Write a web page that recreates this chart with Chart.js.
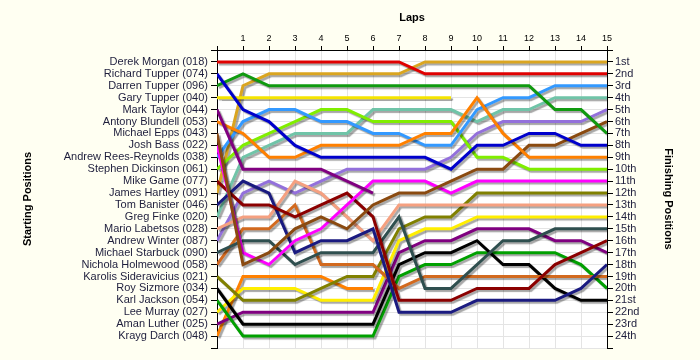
<!DOCTYPE html>
<html>
<head>
<meta charset="utf-8">
<title>Lap chart</title>
<script src="https://cdn.jsdelivr.net/npm/chart.js@4"></script>
<style>
  html, body { margin: 0; padding: 0; background: #fffff2; }
  canvas { display: block; }
</style>
</head>
<body>
<canvas id="chart" width="700" height="360"></canvas>
<script>
// laps 0..15, position of each driver after each lap (null = retired)
const laps = [0, 1, 2, 3, 4, 5, 6, 7, 8, 9, 10, 11, 12, 13, 14, 15];

const startNames = [
  'Derek Morgan (018)', 'Richard Tupper (074)', 'Darren Tupper (096)', 'Gary Tupper (040)',
  'Mark Taylor (044)', 'Antony Blundell (053)', 'Michael Epps (043)', 'Josh Bass (022)',
  'Andrew Rees-Reynolds (038)', 'Stephen Dickinson (061)', 'Mike Game (077)', 'James Hartley (091)',
  'Tom Banister (046)', 'Greg Finke (020)', 'Mario Labetsos (028)', 'Andrew Winter (087)',
  'Michael Starbuck (090)', 'Nichola Holmewood (058)', 'Karolis Sideravicius (021)', 'Roy Sizmore (034)',
  'Karl Jackson (054)', 'Lee Murray (027)', 'Aman Luther (025)', 'Krayg Darch (048)'
];

const finishLabels = [
  '1st', '2nd', '3rd', '4th', '5th', '6th', '7th', '8th', '9th', '10th', '11th', '12th',
  '13th', '14th', '15th', '16th', '17th', '18th', '19th', '20th', '21st', '22nd', '23rd', '24th'
];

const morgan       = [1, 1, 1, 1, 1, 1, 1, 1, 2, 2, 2, 2, 2, 2, 2, 2];
const rTupper      = [2, 5, 6, 8, 9, 9, 9, 9, 9, 10, 8, 8, 7, 7, 8, 8];
const dTupper      = [3, 2, 3, 3, 3, 3, 3, 3, 3, 3, 3, 3, 3, 5, 5, 7];
const gTupper      = [4, 4, 4, 4, 4, 4, 4, 4, 4, 4, null, null, null, null, null, null];
const taylor       = [5, 10, 10, 10, 10, 11, 12, null, null, null, null, null, null, null, null, null];
const blundell     = [6, 7, 9, 9, 8, 8, 8, 8, 7, 7, 4, 7, 9, 9, 9, 9];
const epps         = [7, 18, 17, 15, 14, 15, 13, 12, 12, 11, 10, 10, 8, 8, 7, 6];
const bass         = [8, 17, 18, 16, 15, 13, 11, 11, 11, 12, 11, 11, 11, 11, 11, 11];
const reesReynolds = [9, 6, 5, 5, 6, 6, 7, 7, 8, 8, 5, 4, 4, 3, 3, 3];
const dickinson    = [10, 8, 7, 6, 5, 5, 6, 6, 6, 6, 9, 9, 10, 10, 10, 10];
const game         = [11, 13, 13, 14, 13, 12, 14, 21, 21, 21, 20, 20, 20, 18, 17, 16];
const hartley      = [12, 3, 2, 2, 2, 2, 2, 2, 1, 1, 1, 1, 1, 1, 1, 1];
const banister     = [13, 11, 12, 17, 16, 16, 15, 22, 22, 22, 21, 21, 21, 21, 20, 18];
const finke        = [14, 9, 8, 7, 7, 7, 5, 5, 5, 5, 6, 5, 5, 4, 4, 4];
const labetsos     = [15, 14, 14, 11, 12, 14, 16, 13, 13, 13, 13, 13, 13, 13, 13, 13];
const winter       = [16, 12, 11, 12, 11, 10, 10, 10, 10, 9, 7, 6, 6, 6, 6, 5];
const starbuck     = [17, 16, 16, 18, 17, 17, 17, 14, 20, 20, 18, 16, 16, 15, 15, 15];
const holmewood    = [18, 15, 15, 13, 18, 18, 18, 20, 19, 19, 19, 19, 19, 19, 19, 19];
const sideravicius = [19, 21, 21, 21, 20, 19, 19, 15, 14, 14, 12, 12, 12, 12, 12, 12];
const sizmore      = [20, 23, 23, 23, 23, 23, 23, 18, 17, 17, 16, 18, 18, 20, 21, 21];
const jackson      = [21, 24, 24, 24, 24, 24, 24, 19, 18, 18, 17, 17, 17, 17, 18, 20];
const murray       = [22, 20, 20, 20, 21, 21, 21, 16, 15, 15, 14, 14, 14, 14, 14, 14];
const luther       = [23, 22, 22, 22, 22, 22, 22, 17, 16, 16, 15, 15, 15, 16, 16, 17];
const darch        = [24, 19, 19, 19, 19, 20, 20, null, null, null, null, null, null, null, null, null];

const drivers = [
  [morgan, '#e00000'], [rTupper, '#0000cc'], [dTupper, '#109a10'], [gTupper, '#f5e400'],
  [taylor, '#800080'], [blundell, '#ff8000'], [epps, '#8a4a10'], [bass, '#ff00ff'],
  [reesReynolds, '#3399ff'], [dickinson, '#80ee00'], [game, '#8b0000'], [hartley, '#daa520'],
  [banister, '#1a1a80'], [finke, '#70c4a8'], [labetsos, '#f5a080'], [winter, '#9370db'],
  [starbuck, '#2f4f4f'], [holmewood, '#d2691e'], [sideravicius, '#808000'], [sizmore, '#000000'],
  [jackson, '#00a000'], [murray, '#ffee00'], [luther, '#800080'], [darch, '#ff8000']
];

Chart.defaults.font.family = '"Liberation Sans", Arial, sans-serif';

const backgroundPlugin = {
  id: 'panelBackground',
  beforeDraw(chart) {
    const { ctx, chartArea: a } = chart;
    ctx.save();
    ctx.fillStyle = '#fffff2';
    ctx.fillRect(0, 0, chart.width, chart.height);
    ctx.fillStyle = '#ffffff';
    ctx.fillRect(a.left, a.top, a.right - a.left, a.bottom - a.top);
    ctx.restore();
  }
};

// grey drop shadow under every line
const shadowPlugin = {
  id: 'lineShadow',
  beforeDatasetDraw(chart) {
    const ctx = chart.ctx;
    ctx.save();
    ctx.shadowColor = 'rgba(0,0,0,0.35)';
    ctx.shadowOffsetX = 2;
    ctx.shadowOffsetY = 2;
    ctx.shadowBlur = 1;
  },
  afterDatasetDraw(chart) {
    chart.ctx.restore();
  }
};

function toPoints(positions) {
  return positions
    .map((p, i) => (p == null ? null : { x: laps[i], y: p }))
    .filter(Boolean);
}

const datasets = drivers.map(([positions, color]) => ({
  data: toPoints(positions),
  borderColor: color,
  borderWidth: 3,
  pointRadius: 0,
  tension: 0,
  fill: false
}));

const gridColor = '#e4e4e4';
const titleFont = { size: 11, weight: 'bold' };

new Chart(document.getElementById('chart'), {
  type: 'line',
  data: { datasets },
  plugins: [backgroundPlugin, shadowPlugin],
  options: {
    responsive: false,
    animation: false,
    layout: { padding: { top: 0, right: 0, bottom: 12, left: 0 } },
    plugins: { legend: { display: false }, tooltip: { enabled: false } },
    scales: {
      x: {
        type: 'linear', position: 'top', min: 0, max: 15,
        afterFit: s => { s.height = 50; },
        ticks: { stepSize: 1, autoSkip: false, maxRotation: 0, padding: 2, color: '#000', font: { size: 9 },
          callback: v => (v === 0 ? '' : String(v)) },
        grid: { color: gridColor, tickColor: '#000', tickLength: 4 },
        border: { color: '#000' },
        title: { display: true, text: 'Laps', color: '#000', font: titleFont, padding: { top: 11 } }
      },
      y: {
        type: 'linear', position: 'left', reverse: true, min: 0, max: 25,
        afterFit: s => { s.width = 217; },
        ticks: { stepSize: 1, autoSkip: false, padding: 3, color: '#1e1e3c', font: { size: 11 },
          callback: v => startNames[v - 1] || '' },
        grid: { color: gridColor, tickColor: '#000', tickLength: 6 },
        border: { color: '#000' },
        title: { display: true, text: 'Starting Positions', color: '#000', font: titleFont, padding: { top: 21 } }
      },
      y2: {
        type: 'linear', position: 'right', reverse: true, min: 0, max: 25,
        afterFit: s => { s.width = 93; },
        ticks: { stepSize: 1, autoSkip: false, padding: 2, color: '#1e1e3c', font: { size: 11 },
          callback: v => finishLabels[v - 1] || '' },
        grid: { drawOnChartArea: false, tickColor: '#000', tickLength: 6 },
        border: { color: '#000' },
        title: { display: true, text: 'Finishing Positions', color: '#000', font: titleFont, padding: { top: 25 } }
      }
    }
  }
});
</script>
</body>
</html>
